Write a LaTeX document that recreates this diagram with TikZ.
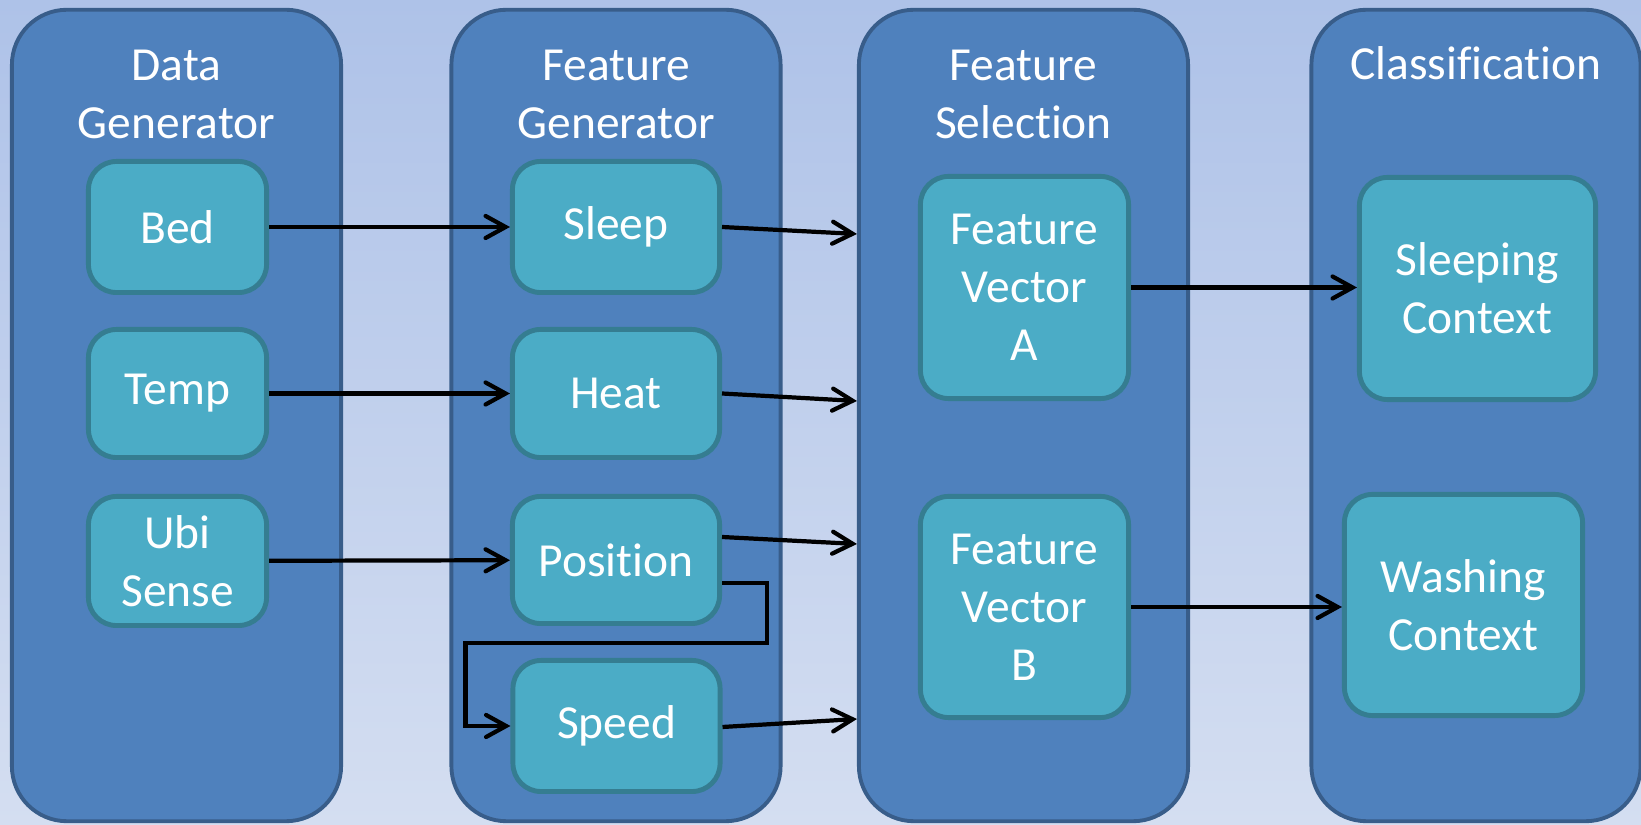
\documentclass[tikz,border=0pt]{standalone}
\usepackage{fontspec}
\setmainfont{Carlito}[Ligatures=NoCommon]
\usetikzlibrary{calc,arrows.meta}
\definecolor{bgtop}{RGB}{174,194,232}
\definecolor{bgbot}{RGB}{212,222,241}
\definecolor{laneblue}{RGB}{79,129,189}
\definecolor{laneedge}{RGB}{56,93,138}
\definecolor{boxaqua}{RGB}{75,172,198}
\definecolor{boxedge}{RGB}{53,125,145}

\begin{document}
\begin{tikzpicture}[x=0.01cm, y=-0.01cm,
  lane/.style={draw=laneedge, line width=1.1pt, fill=laneblue, rounded corners=0.55cm, minimum width=3.29cm, minimum height=8.11cm, inner sep=0pt},
  ttl/.style={text=white, align=center, font=\fontsize{13.5}{16.5}\selectfont},
  blk/.style={draw=boxedge, line width=1.4pt, fill=boxaqua, rounded corners=0.28cm, text=white, align=center, font=\fontsize{13.5}{16.5}\selectfont, inner sep=0pt},
  sz/.style 2 args={minimum width=#1, minimum height=#2},
  arr/.style={line width=1.2pt, -{Straight Barb[length=0.2cm,width=0.22cm,line cap=round]}}]
\useasboundingbox (0,0) rectangle (1641,825);
\clip (0,0) rectangle (1641,825);
\shade[top color=bgtop, bottom color=bgbot] (0,0) rectangle (1641,825);

% the four lanes
\node[lane] (datagen) at (176.5,415.5) {};
\node[lane] (featgen) at (616,415.5) {};
\node[lane] (featsel) at (1023.5,415.5) {};
\node[lane] (classif) at (1476,415.5) {};
\node[ttl] (datagenT) at (176.5,94) {Data\\Generator};
\node[ttl] (featgenT) at (616,94) {Feature\\Generator};
\node[ttl] (featselT) at (1023.5,94) {Feature\\Selection};
\node[ttl] (classifT) at (1476,63) {Classification};

% blocks
\node[blk, sz={1.78cm}{1.31cm}] (bed) at (177.5,227) {Bed};
\node[blk, sz={1.78cm}{1.28cm}] (temp) at (177.5,393.5) {Temp};
\node[blk, sz={1.78cm}{1.29cm}] (ubi) at (177.5,561) {Ubi\\Sense};
\node[blk, sz={2.07cm}{1.31cm}] (sleep) at (616,227) {Sleep};
\node[blk, sz={2.07cm}{1.28cm}] (heat) at (616,393.5) {Heat};
\node[blk, sz={2.07cm}{1.27cm}] (pos) at (616,560) {Position};
\node[blk, sz={2.07cm}{1.31cm}] (speed) at (616.5,726) {Speed};
\node[blk, sz={2.08cm}{2.22cm}] (fva) at (1024.5,287.5) {Feature\\Vector\\A};
\node[blk, sz={2.08cm}{2.21cm}] (fvb) at (1024.5,607) {Feature\\Vector\\B};
\node[blk, sz={2.36cm}{2.22cm}] (sleeping) at (1477.5,288.5) {Sleeping\\Context};
\node[blk, sz={2.38cm}{2.21cm}] (washing) at (1463.5,605) {Washing\\Context};

\draw[arr] (bed) -- (sleep);
\draw[arr] (temp) -- (heat);
\draw[arr] (ubi) -- (pos);
\foreach \n/\s/\e in {sleep/0/7, heat/0/7.5, pos/-23/-16, speed/1/-7}
  \draw[arr] ($(\n.east)+(0,\s)$) -- ($(\n.east -| featsel.west)+(0,\e)$);
\draw[arr] ($(pos.east)+(0,23)$) -| ($(pos.east)+(45,83)$) -| ($(speed.west)+(-45,0)$) -- (speed);
\draw[arr] (fva) -- (fva -| sleeping.west);
\draw[arr] (fvb) -- (fvb -| washing.west);

\end{tikzpicture}
\end{document}
